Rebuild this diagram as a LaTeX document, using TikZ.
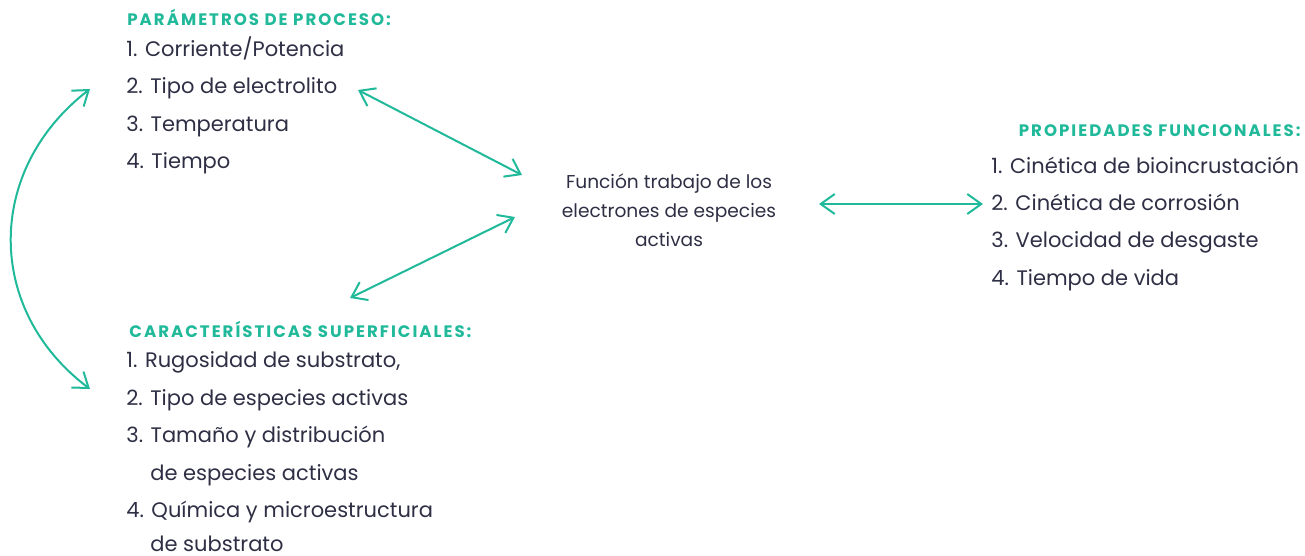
\documentclass[tikz,border=0pt]{standalone}
\usepackage{fontspec}
\setmainfont{Poppins}
\newfontfamily\headfont[LetterSpace=12]{Poppins}
\usetikzlibrary{arrows.meta}
\definecolor{verde}{RGB}{32,185,154}
\definecolor{tinta}{RGB}{46,47,68}
\tikzset{
  item/.style={anchor=base west, inner sep=0pt, text=tinta, font=\fontsize{10.5}{12}\selectfont},
  titulo/.style={anchor=base west, inner sep=0pt, text=verde, font=\fontsize{8.3}{9}\headfont\bfseries\selectfont},
  centro/.style={align=center, inner sep=0pt, text=tinta, font=\fontsize{9.3}{14.5}\selectfont},
  flecha/.style={draw=verde, line width=1pt, {Straight Barb[length=7pt,width=10pt]}-{Straight Barb[length=7pt,width=10pt]}}
}
\begin{document}
\begin{tikzpicture}[x=0.5pt, y=-0.5pt]
                \useasboundingbox (0,0) rectangle (1305,556);
                % parametros de proceso
                \node(par_t) at(127, 26)  [titulo] {PARÁMETROS DE PROCESO:};
                \node(par_1) at(126, 57)  [item] {1. Corriente/Potencia};
                \node(par_2) at(126, 94)  [item] {2. Tipo de electrolito};
                \node(par_3) at(126, 132) [item] {3. Temperatura};
                \node(par_4) at(126, 169) [item] {4. Tiempo};
                % funcion trabajo
                \node(fun) at(669, 210) [centro] {Función trabajo de los\\electrones de especies\\activas};
                % propiedades funcionales
                \node(pro_t) at(1301, 136) [titulo, anchor=base east] {PROPIEDADES FUNCIONALES:};
                \node(pro_1) at(991, 173) [item] {1. Cinética de bioincrustación};
                \node(pro_2) at(991, 210) [item] {2. Cinética de corrosión};
                \node(pro_3) at(991, 247) [item] {3. Velocidad de desgaste};
                \node(pro_4) at(991, 285) [item] {4. Tiempo de vida};
                % caracteristicas superficiales
                \node(car_t) at(129, 337) [titulo] {CARACTERÍSTICAS SUPERFICIALES:};
                \node(car_1) at(126, 367) [item] {1. Rugosidad de substrato,};
                \node(car_2) at(126, 405) [item] {2. Tipo de especies activas};
                \node(car_3) at(126, 442) [item] {3. Tamaño y distribución};
                \node(car_3b) at(150, 480) [item] {de especies activas};
                \node(car_4) at(126, 517) [item] {4. Química y microestructura};
                \node(car_4b) at(150, 551) [item] {de substrato};
                % extremos de las flechas
                \coordinate (a_par) at(358, 90);
                \coordinate (a_fun1) at(522, 175);
                \coordinate (a_fun2) at(515, 217);
                \coordinate (a_car) at(350, 298);
                \coordinate (a_fun3) at(819, 204);
                \coordinate (a_pro) at(983, 204);
                \coordinate (a_top) at(90, 89);
                \coordinate (a_bot) at(90, 389);
                \draw[flecha] (a_par) -- (a_fun1);
                \draw[flecha] (a_car) -- (a_fun2);
                \draw[flecha] (a_fun3) -- (a_pro);
                \draw[flecha] (a_top) .. controls (-15, 170) and (-15, 310) .. (a_bot);
            \end{tikzpicture}
\end{document}
